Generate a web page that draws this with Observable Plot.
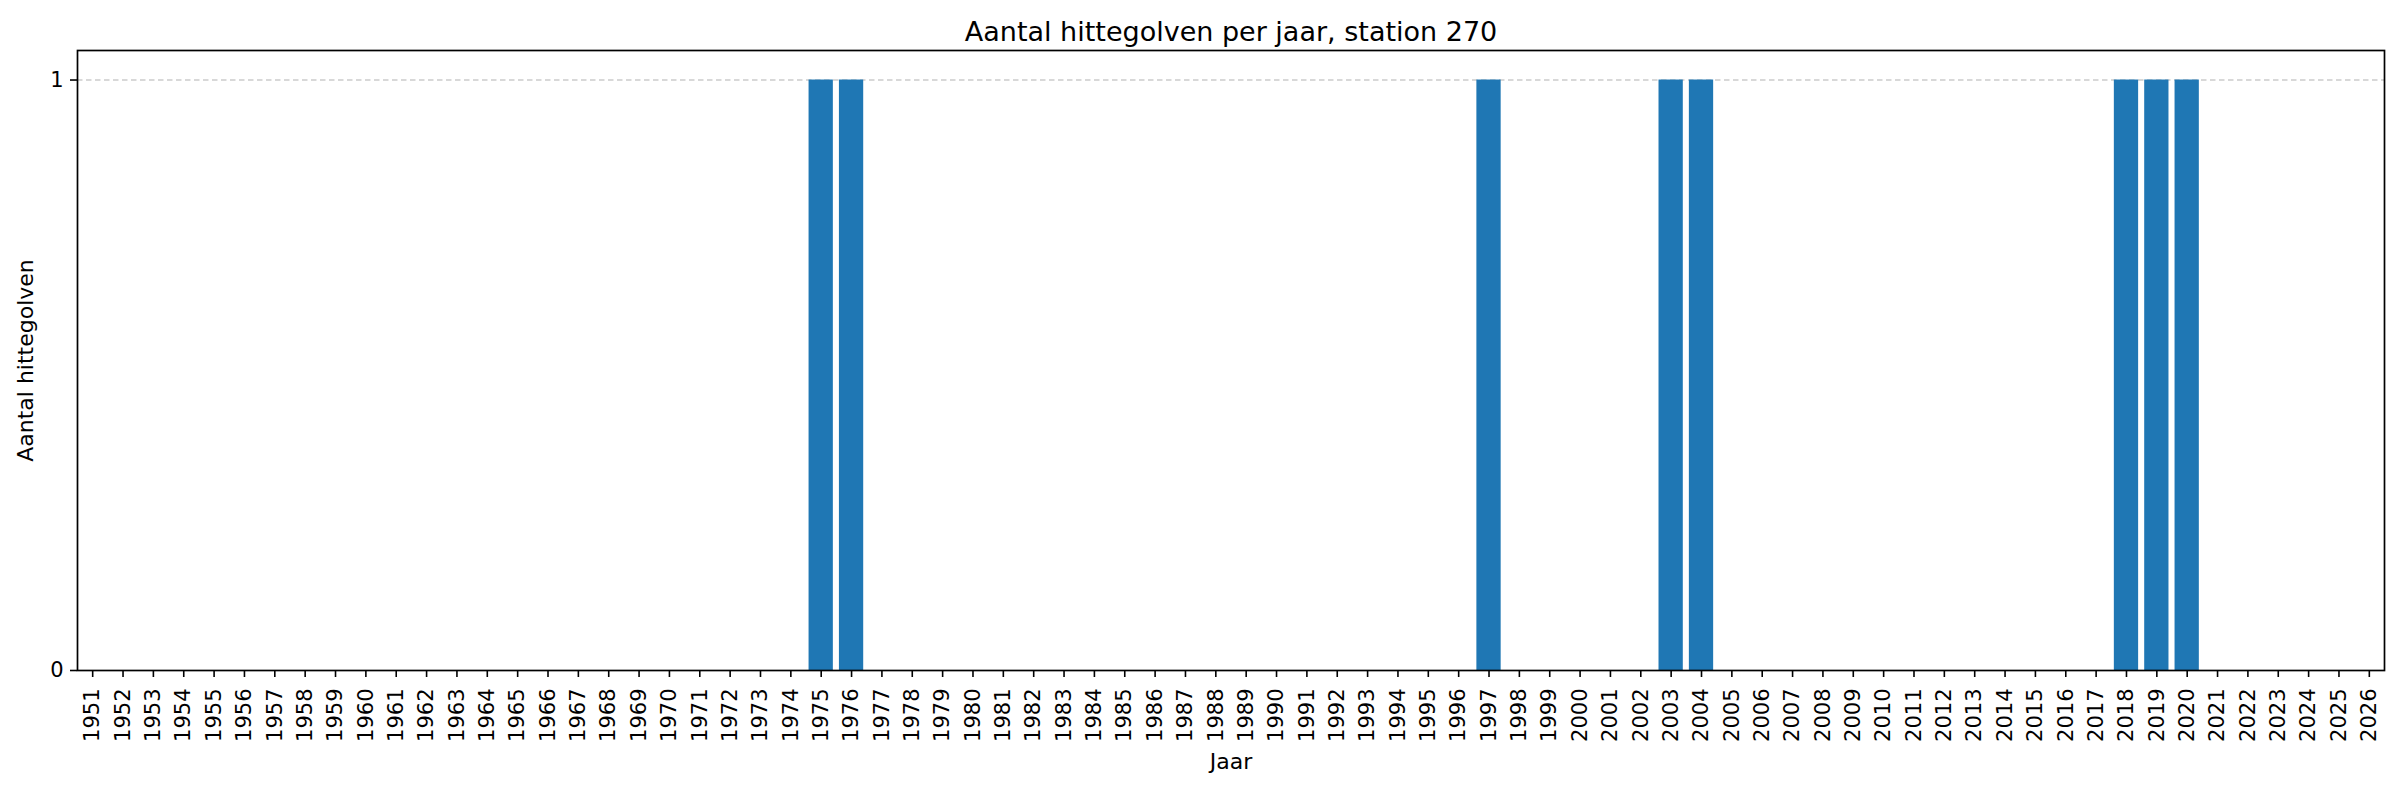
<!DOCTYPE html>
<html><head><meta charset="utf-8">
<script src="https://cdn.jsdelivr.net/npm/d3@7"></script>
<script src="https://cdn.jsdelivr.net/npm/@observablehq/plot@0.6"></script>
<style>body{margin:0;background:#fff}</style>
</head><body><div id="chart"></div>
<script>
const years = [1951,1952,1953,1954,1955,1956,1957,1958,1959,1960,1961,1962,1963,1964,1965,1966,1967,1968,1969,1970,
1971,1972,1973,1974,1975,1976,1977,1978,1979,1980,1981,1982,1983,1984,1985,1986,1987,1988,1989,1990,
1991,1992,1993,1994,1995,1996,1997,1998,1999,2000,2001,2002,2003,2004,2005,2006,2007,2008,2009,2010,
2011,2012,2013,2014,2015,2016,2017,2018,2019,2020,2021,2022,2023,2024,2025,2026];
const counts = [0,0,0,0,0,0,0,0,0,0,0,0,0,0,0,0,0,0,0,0,
0,0,0,0,1,1,0,0,0,0,0,0,0,0,0,0,0,0,0,0,
0,0,0,0,0,0,1,0,0,0,0,0,1,1,0,0,0,0,0,0,
0,0,0,0,0,0,0,1,1,1,0,0,0,0,0,0];
const yTicks = [0, 1];
const titleText = "Aantal hittegolven per jaar, station 270";
const xLabel = "Jaar";
const yLabel = "Aantal hittegolven";

const data = years.map((y, i) => ({year: String(y), count: counts[i]}));

const chart = Plot.plot({
  width: 2400, height: 789,
  marginLeft: 77, marginRight: 16, marginTop: 50, marginBottom: 119,
  style: {fontFamily: "DejaVu Sans", fontSize: "21px", background: "#fff", color: "#000", overflow: "visible"},
  x: {type: "band", domain: years.map(String), paddingInner: 0.2, paddingOuter: 0.1, round: false, label: null},
  y: {domain: [0, 1.05], label: null},
  marks: [
    Plot.ruleY([1], {stroke: "#cccccc", strokeDasharray: "5.5,3.5", strokeWidth: 1.6}),
    Plot.barY(data, {x: "year", y: "count", fill: "#1f77b4"}),
    Plot.axisX({tickRotate: -90, tickSize: 7, tickPadding: 11, fontSize: 21, label: null, strokeWidth: 1.6}),
    Plot.axisY({ticks: yTicks, tickFormat: d3.format("d"), tickSize: 7, tickPadding: 7, fontSize: 21, label: null, strokeWidth: 1.6}),
    Plot.frame({stroke: "#000", strokeWidth: 1.7}),
    Plot.text([titleText], {frameAnchor: "top", textAnchor: "middle", lineAnchor: "bottom", dy: -10, fontSize: 27, text: d => d}),
    Plot.text([xLabel], {frameAnchor: "bottom", textAnchor: "middle", lineAnchor: "bottom", dy: 98, fontSize: 22, text: d => d}),
    Plot.text([yLabel], {frameAnchor: "left", textAnchor: "middle", lineAnchor: "middle", dx: -52, rotate: -90, fontSize: 22, text: d => d})
  ]
});
document.getElementById("chart").appendChild(chart);
</script>
</body></html>
